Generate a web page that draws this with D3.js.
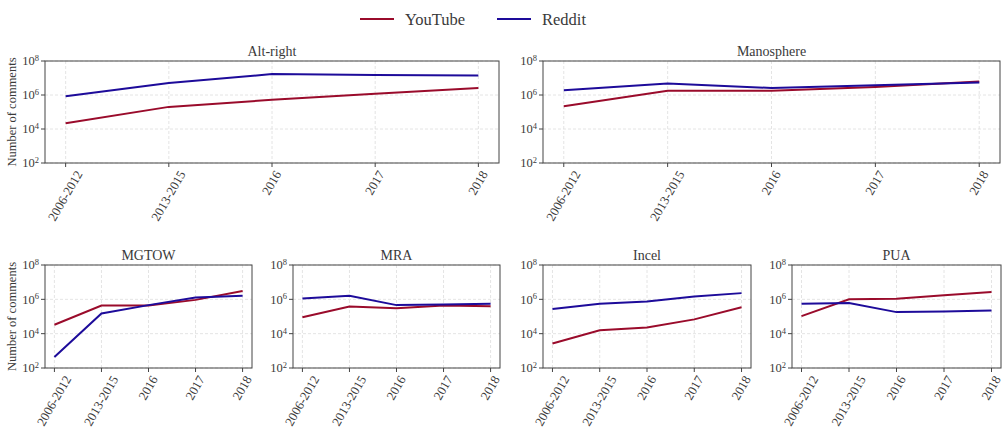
<!DOCTYPE html>
<html>
<head>
<meta charset="utf-8">
<script src="https://cdn.jsdelivr.net/npm/d3@7"></script>
<style>
  body { margin: 0; background: #fff; }
  svg { font-family: "Liberation Serif", "DejaVu Serif", serif; }
</style>
</head>
<body>
<svg id="chart" width="1008" height="431"></svg>
<script>
const periods = ["2006-2012", "2013-2015", "2016", "2017", "2018"];
const yTicks = [1e2, 1e4, 1e6, 1e8];

// number of comments per period
const altRightYouTube   = [22000, 200000, 520000, 1200000, 2600000];
const altRightReddit    = [850000, 5100000, 17000000, 15000000, 14000000];
const manosphereYouTube = [220000, 1800000, 1800000, 3000000, 6200000];
const manosphereReddit  = [1900000, 4700000, 2600000, 3800000, 5400000];
const mgtowYouTube      = [33000, 440000, 440000, 930000, 3100000];
const mgtowReddit       = [440, 150000, 460000, 1260000, 1600000];
const mraYouTube        = [91000, 380000, 300000, 440000, 400000];
const mraReddit         = [1100000, 1600000, 460000, 500000, 550000];
const incelYouTube      = [2700, 16000, 23000, 68000, 350000];
const incelReddit       = [270000, 550000, 740000, 1450000, 2300000];
const puaYouTube        = [105000, 1020000, 1070000, 1740000, 2700000];
const puaReddit         = [560000, 620000, 180000, 195000, 220000];

const colors = { YouTube: "#9a0b2b", Reddit: "#1d0b9a" };

const panels = [
  { title: "Alt-right",  yt: altRightYouTube,   rd: altRightReddit,   x0: 45,  x1: 499,  y0: 61,  y1: 163, ylabel: true },
  { title: "Manosphere", yt: manosphereYouTube, rd: manosphereReddit, x0: 543, x1: 1000, y0: 61,  y1: 163 },
  { title: "MGTOW",      yt: mgtowYouTube,      rd: mgtowReddit,      x0: 45,  x1: 252,  y0: 265, y1: 368, ylabel: true },
  { title: "MRA",        yt: mraYouTube,        rd: mraReddit,        x0: 293, x1: 500,  y0: 265, y1: 368 },
  { title: "Incel",      yt: incelYouTube,      rd: incelReddit,      x0: 543, x1: 751,  y0: 265, y1: 368 },
  { title: "PUA",        yt: puaYouTube,        rd: puaReddit,        x0: 792, x1: 1001, y0: 265, y1: 368 }
];

const svg = d3.select("#chart");
const textCol = "#3a3a3a";
const spineCol = "#444";

panels.forEach(p => {
  const x = d3.scaleLinear().domain([-0.2, periods.length - 1 + 0.2]).range([p.x0, p.x1]);
  const y = d3.scaleLog().domain([1e2, 1e8]).range([p.y1, p.y0]);
  const g = svg.append("g");

  // grid
  g.selectAll(".gx").data(periods).join("line")
    .attr("x1", (d, i) => x(i)).attr("x2", (d, i) => x(i))
    .attr("y1", p.y0).attr("y2", p.y1)
    .attr("stroke", "#ddd").attr("stroke-width", 0.8).attr("stroke-dasharray", "3,2");
  g.selectAll(".gy").data(yTicks).join("line")
    .attr("x1", p.x0).attr("x2", p.x1)
    .attr("y1", d => y(d)).attr("y2", d => y(d))
    .attr("stroke", "#ddd").attr("stroke-width", 0.8).attr("stroke-dasharray", "3,2");

  // lines
  const line = d3.line().x((d, i) => x(i)).y(d => y(d));
  [["YouTube", p.yt], ["Reddit", p.rd]].forEach(([k, vals]) => {
    g.append("path").datum(vals)
      .attr("d", line).attr("fill", "none")
      .attr("stroke", colors[k]).attr("stroke-width", 2);
  });

  // frame
  g.append("rect")
    .attr("x", p.x0).attr("y", p.y0)
    .attr("width", p.x1 - p.x0).attr("height", p.y1 - p.y0)
    .attr("fill", "none").attr("stroke", spineCol).attr("stroke-width", 1);

  // x ticks, rotated labels centred under the tick like matplotlib does
  const xt = g.selectAll(".xt").data(periods).join("g")
    .attr("transform", (d, i) => `translate(${x(i)},${p.y1})`);
  xt.append("line").attr("y2", 4).attr("stroke", spineCol);
  xt.append("text")
    .attr("text-anchor", "middle").attr("dy", "0.3em")
    .attr("font-size", 12.8).attr("fill", textCol)
    .text(d => d)
    .attr("transform", function() {
      const L = this.getComputedTextLength();
      return `translate(0,${6 + 0.433 * L + 3}) rotate(-60)`;
    });

  // y ticks
  const yt = g.selectAll(".yt").data(yTicks).join("g")
    .attr("transform", d => `translate(${p.x0},${y(d)})`);
  yt.append("line").attr("x2", -4).attr("stroke", spineCol);
  const lab = yt.append("text")
    .attr("x", -6).attr("dy", "0.35em")
    .attr("text-anchor", "end").attr("font-size", 12.5).attr("fill", textCol);
  lab.append("tspan").text("10");
  lab.append("tspan").attr("dy", "-0.5em").attr("font-size", 8.5)
    .text(d => Math.round(Math.log10(d)));

  // title
  g.append("text")
    .attr("x", (p.x0 + p.x1) / 2).attr("y", p.y0 - 5)
    .attr("text-anchor", "middle").attr("font-size", 14).attr("fill", textCol)
    .text(p.title);

  if (p.ylabel) {
    g.append("text")
      .attr("transform", `translate(12,${(p.y0 + p.y1) / 2}) rotate(-90)`)
      .attr("text-anchor", "middle").attr("dy", "0.35em")
      .attr("font-size", 12.5).attr("fill", textCol)
      .text("Number of comments");
  }
});

// legend
const legend = svg.append("g");
[["YouTube", 360], ["Reddit", 497]].forEach(([k, lx]) => {
  legend.append("line")
    .attr("x1", lx).attr("x2", lx + 34).attr("y1", 19).attr("y2", 19)
    .attr("stroke", colors[k]).attr("stroke-width", 2);
  legend.append("text")
    .attr("x", lx + 45).attr("y", 19).attr("dy", "0.35em")
    .attr("font-size", 16.5).attr("fill", textCol).text(k);
});
</script>
</body>
</html>
